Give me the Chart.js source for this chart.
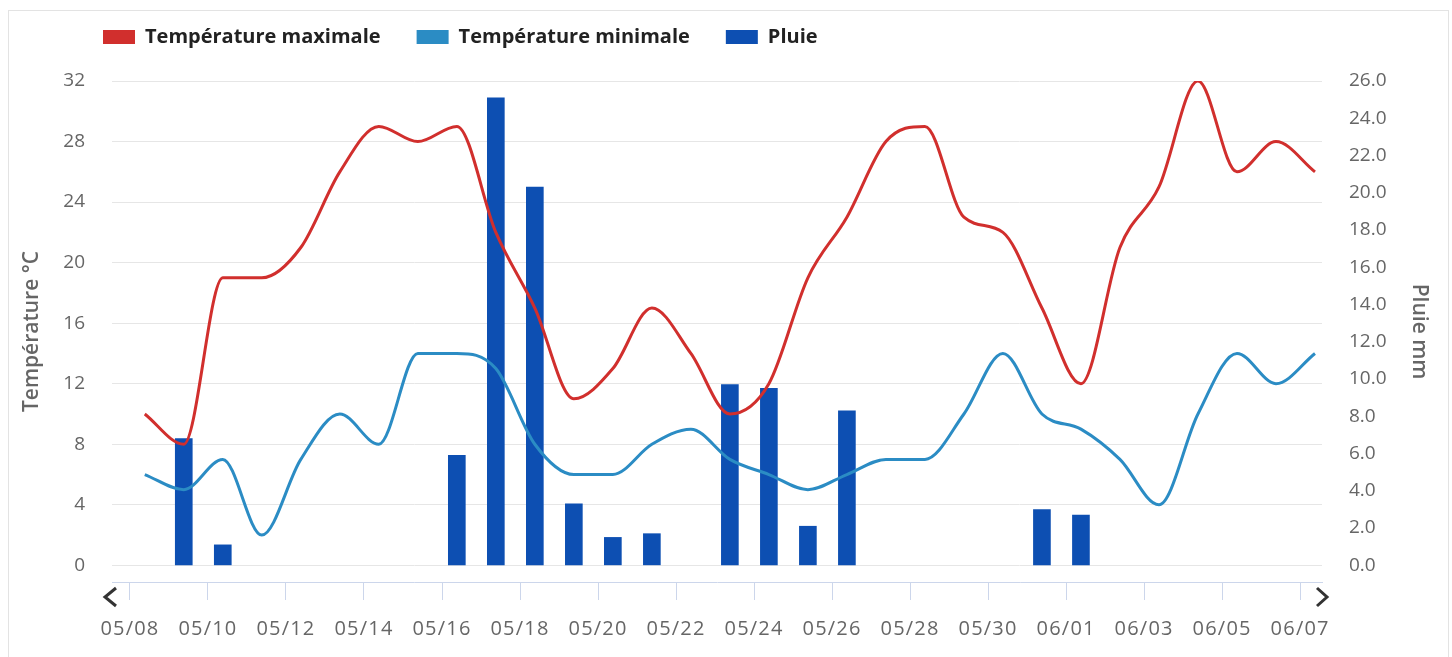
<!DOCTYPE html>
<html>
<head>
<meta charset="utf-8">
<script src="https://cdn.jsdelivr.net/npm/chart.js@4.4.1/dist/chart.umd.min.js"></script>
<style>
  html, body { margin: 0; padding: 0; background: #fff; overflow: hidden; }
  #frame { position: absolute; left: 8px; top: 10px; width: 1439px; height: 700px; border: 1px solid #e3e3e3; }
  #wrap { position: absolute; left: 0; top: -9px; width: 1452px; height: 700px; }
</style>
</head>
<body>
<div id="frame"></div>
<div id="wrap"><canvas id="chart"></canvas></div>
<script>
// daily values 05/08 -> 06/07
var dates = ["05/08", "05/09", "05/10", "05/11", "05/12", "05/13", "05/14", "05/15", "05/16", "05/17",
  "05/18", "05/19", "05/20", "05/21", "05/22", "05/23", "05/24", "05/25", "05/26", "05/27",
  "05/28", "05/29", "05/30", "05/31", "06/01", "06/02", "06/03", "06/04", "06/05", "06/06", "06/07"];
var tempMax = [10, 8, 19, 19, 21, 26, 29, 28, 29, 22, 17, 11, 13, 17, 14, 10, 12, 19, 23, 28,
  29, 23, 22, 17, 12, 21, 25, 32, 26, 28, 26];
var tempMin = [6, 5, 7, 2, 7, 10, 8, 14, 14, 13, 8, 6, 6, 8, 9, 7, 6, 5, 6, 7,
  7, 10, 14, 10, 9, 7, 4, 10, 14, 12, 14];
var rain = [0, 6.8, 1.1, 0, 0, 0, 0, 0, 5.9, 25.1, 20.3, 3.3, 1.5, 1.7, 0, 9.7, 9.5, 2.1, 8.3, 0,
  0, 0, 0, 3.0, 2.7, 0, 0, 0, 0, 0, 0];
var tempTicks = [0, 4, 8, 12, 16, 20, 24, 28, 32];
var rainTicks = [0, 2, 4, 6, 8, 10, 12, 14, 16, 18, 20, 22, 24, 26];

// readings are taken in the morning, the axis ticks sit on midnight
var TICK_SHIFT = -0.38;

function points(values) {
  return values.map(function (v, i) {
    return { x: i, y: v };
  });
}

Chart.defaults.font.family = "'Open Sans', sans-serif";
Chart.defaults.color = "#666";

var legendLayout = {
  id: "legendLayout",
  beforeInit: function (chart) {
    var fit = chart.legend.fit;
    chart.legend.fit = function () {
      fit.call(this);
      this.height = 90;
    };
  },
  afterLayout: function (chart) {
    chart.legend.left = 67;
  },
};

// the little scroll chevrons at both ends of the x axis
var navArrows = {
  id: "navArrows",
  afterDraw: function (chart) {
    var ctx = chart.ctx;
    var area = chart.chartArea;
    var y = chart.scales.x.top + 15;
    ctx.save();
    ctx.strokeStyle = "#333";
    ctx.lineWidth = 3;
    ctx.beginPath();
    ctx.moveTo(area.left + 4, y - 9);
    ctx.lineTo(area.left - 7, y);
    ctx.lineTo(area.left + 4, y + 9);
    ctx.stroke();
    ctx.beginPath();
    ctx.moveTo(area.right - 5, y - 9);
    ctx.lineTo(area.right + 5, y);
    ctx.lineTo(area.right - 5, y + 9);
    ctx.stroke();
    ctx.restore();
  },
};

var chart = new Chart("chart", {
  type: "bar",
  data: {
    datasets: [
      {
        type: "line",
        label: "Température maximale",
        data: points(tempMax),
        borderColor: "#d12f2d",
        backgroundColor: "#d12f2d",
        borderWidth: 3,
        pointRadius: 0,
        cubicInterpolationMode: "monotone",
        yAxisID: "y",
        order: 1,
      },
      {
        type: "line",
        label: "Température minimale",
        data: points(tempMin),
        borderColor: "#2b8cc4",
        backgroundColor: "#2b8cc4",
        borderWidth: 3,
        pointRadius: 0,
        cubicInterpolationMode: "monotone",
        yAxisID: "y",
        order: 2,
      },
      {
        label: "Pluie",
        // dry days get no column at all
        data: points(rain).map(function (p) {
          return { x: p.x, y: p.y === 0 ? null : p.y };
        }),
        backgroundColor: "#0d4fb2",
        barThickness: 17,
        yAxisID: "y1",
        order: 3,
      },
    ],
  },
  options: {
    responsive: true,
    maintainAspectRatio: false,
    animation: false,
    layout: { padding: 0 },
    plugins: {
      tooltip: { enabled: false },
      legend: {
        display: true,
        position: "top",
        align: "start",
        labels: {
          boxWidth: 32,
          boxHeight: 14,
          padding: 36,
          color: "#222",
          font: { size: 20, weight: "bold" },
          generateLabels: function (chart) {
            return Chart.defaults.plugins.legend.labels.generateLabels(chart).map(function (item) {
              item.lineWidth = 0;
              return item;
            });
          },
        },
      },
    },
    scales: {
      x: {
        type: "linear",
        min: -0.84,
        max: 30.18,
        offset: false,
        afterBuildTicks: function (scale) {
          scale.ticks = dates
            .map(function (d, i) { return i; })
            .filter(function (i) { return i % 2 === 0; })
            .map(function (i) { return { value: i + TICK_SHIFT }; });
        },
        afterFit: function (scale) {
          scale.height = 700 - 591;
          if (!scale.spacedLabels) {
            var drawLabels = scale.drawLabels;
            scale.drawLabels = function (area) {
              this.ctx.save();
              this.ctx.letterSpacing = "1.2px";
              drawLabels.call(this, area);
              this.ctx.restore();
            };
            scale.spacedLabels = true;
          }
        },
        ticks: {
          autoSkip: false,
          maxRotation: 0,
          padding: 17,
          font: { size: 20 },
          color: "#666",
          callback: function (value) {
            return dates[Math.round(value - TICK_SHIFT)];
          },
        },
        grid: {
          offset: false,
          drawOnChartArea: false,
          drawTicks: true,
          tickLength: 18,
          color: "#ccd6eb",
        },
        border: { display: true, color: "#ccd6eb", width: 1 },
      },
      y: {
        position: "left",
        min: -1.1,
        max: 32,
        afterBuildTicks: function (scale) {
          scale.ticks = tempTicks.map(function (v) { return { value: v }; });
        },
        afterFit: function (scale) {
          scale.width = 112;
        },
        ticks: {
          padding: 27,
          font: { size: 19 },
          color: "#666",
        },
        grid: { color: "#e6e6e6", drawTicks: false },
        border: { display: false },
        title: {
          display: true,
          text: "Température °C",
          color: "#666",
          font: { size: 21, weight: "600" },
          padding: { top: 19, bottom: 0 },
        },
      },
      y1: {
        position: "right",
        min: -1.1 * 26 / 32,
        max: 26,
        afterBuildTicks: function (scale) {
          scale.ticks = rainTicks.map(function (v) { return { value: v }; });
        },
        afterFit: function (scale) {
          scale.width = 130;
        },
        ticks: {
          padding: 27,
          font: { size: 19 },
          color: "#666",
          callback: function (value) {
            return value.toFixed(1);
          },
        },
        grid: { drawOnChartArea: false, drawTicks: false },
        border: { display: false },
        title: {
          display: true,
          text: "Pluie mm",
          color: "#666",
          font: { size: 21, weight: "600" },
          padding: { top: 20, bottom: 0 },
        },
      },
    },
  },
  plugins: [legendLayout, navArrows],
});
</script>
</body>
</html>
